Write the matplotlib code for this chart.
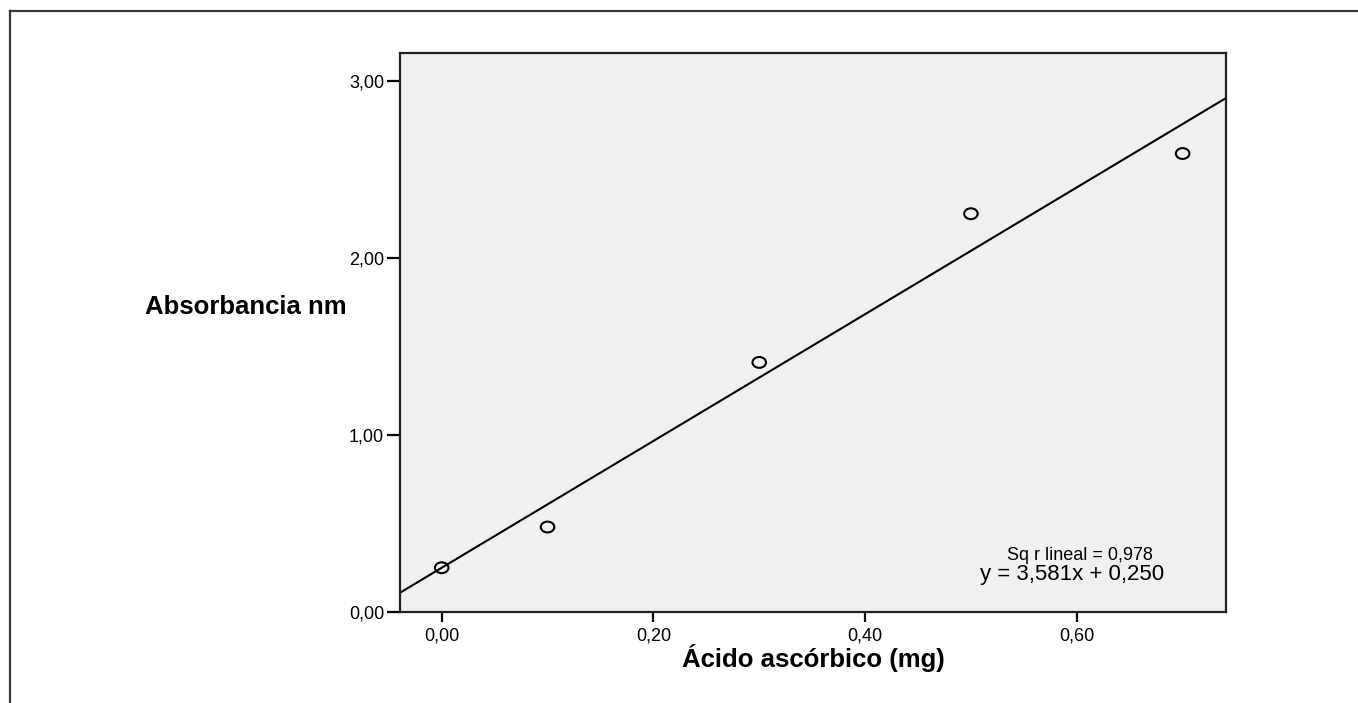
import matplotlib
matplotlib.use("Agg")
import matplotlib.pyplot as plt
from matplotlib.path import Path
from matplotlib.transforms import Affine2D
import numpy as np

plt.rcParams['font.family'] = ['Liberation Sans', 'DejaVu Sans']

acido = [0.00, 0.10, 0.30, 0.50, 0.70]
absorbancia = [0.25, 0.48, 1.41, 2.25, 2.59]
slope = 3.581
intercept = 0.250
xticks = [0.0, 0.2, 0.4, 0.6]
xticklabels = ["0,00", "0,20", "0,40", "0,60"]
yticks = [0.0, 1.0, 2.0, 3.0]
yticklabels = ["0,00", "1,00", "2,00", "3,00"]

W, H = 1358, 703
fig = plt.figure(figsize=(W / 100, H / 100), dpi=100)

def fx(px):
    return px / W

def fy(py):
    return 1 - py / H

# outer frame (left and top lines)
fig.add_artist(plt.Line2D([fx(9.5), fx(9.5)], [0, fy(10.5)], color='#3a3a3a', lw=1.6))
fig.add_artist(plt.Line2D([fx(9.5), 1], [fy(10.5), fy(10.5)], color='#3a3a3a', lw=1.6))

left, right, top, bottom = 400, 1226, 53, 612
ax = fig.add_axes([fx(left), fy(bottom), (right - left) / W, (bottom - top) / H])
ax.set_facecolor('#f0f0f0')
xlim = (-0.0394, 0.741)
ylim = (0.0, 3.158)
ax.set_xlim(*xlim)
ax.set_ylim(*ylim)

xs = np.array(xlim)
ax.plot(xs, slope * xs + intercept, color='black', lw=1.5)

ellipse = Path.unit_circle().transformed(Affine2D().scale(1.0, 0.8))
ax.scatter(acido, absorbancia, s=95, marker=ellipse, facecolors='none',
           edgecolors='black', linewidths=1.5, zorder=3)

ax.set_xticks(xticks)
ax.set_xticklabels(xticklabels)
ax.set_yticks(yticks)
ax.set_yticklabels(yticklabels)
ax.tick_params(axis='y', direction='out', length=9.5, width=1.6, labelsize=13, pad=2)
ax.tick_params(axis='x', direction='out', length=7.5, width=1.6, labelsize=13, pad=4)
for s in ax.spines.values():
    s.set_linewidth(1.6)
    s.set_color('#222222')

fig.text(fx((left + right) / 2), fy(667), "Ácido ascórbico (mg)", fontsize=18.5,
         fontweight='bold', ha='center', va='baseline')
fig.text(fx(145), fy(314), "Absorbancia nm", fontsize=18.5, fontweight='bold',
         ha='left', va='baseline')

fig.text(fx(1080), fy(560), "Sq r lineal = 0,978", fontsize=13,
         ha='center', va='baseline')
fig.text(fx(1072), fy(580), "y = 3,581x + 0,250", fontsize=16,
         ha='center', va='baseline')

fig.savefig("out.png", dpi=100)
